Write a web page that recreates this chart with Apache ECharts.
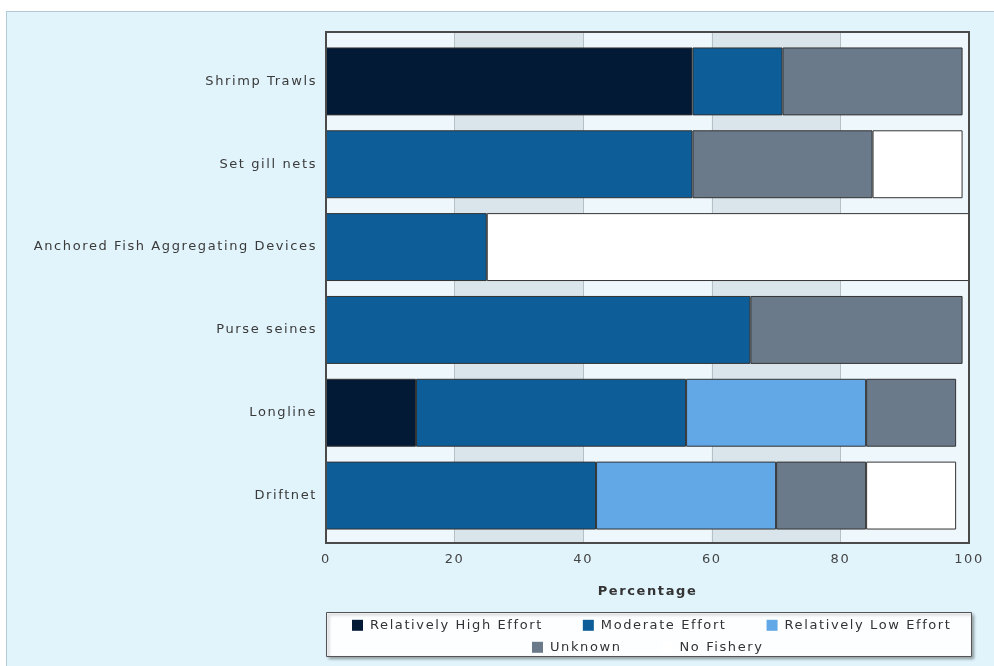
<!DOCTYPE html>
<html><head><meta charset="utf-8">
<script src="https://cdn.jsdelivr.net/npm/echarts@6/dist/echarts.min.js"></script>
<style>
html,body{margin:0;padding:0;background:#fff;overflow:hidden;}
#panel{position:absolute;left:6px;top:11px;width:1000px;height:700px;background:#e1f4fc;border-left:1px solid #b3c9d3;border-top:1px solid #b3c9d3;}
#chart{position:absolute;left:0;top:0;width:994px;height:666px;}
</style></head><body><div id="panel"></div><div id="chart"></div>
<script>
const categories = ['Shrimp Trawls','Set gill nets','Anchored Fish Aggregating Devices','Purse seines','Longline','Driftnet'];
const seriesNames = ['Relatively High Effort','Moderate Effort','Relatively Low Effort','Unknown','No Fishery'];
const highEffort     = [57, 0,  0,  0, 14,  0];
const moderateEffort = [14, 57, 25, 66, 42, 42];
const lowEffort      = [0,  0,  0,  0, 28, 28];
const unknownEffort  = [28, 28, 0, 33, 14, 14];
const noFishery      = [0,  14, 75, 0,  0, 14];
const xMin = 0, xMax = 100, xStep = 20;

// the reference text is drawn with wide letter spacing
(function(){
  const LS = '1.6px';
  const P = CanvasRenderingContext2D.prototype;
  const ft = P.fillText, st = P.strokeText, mt = P.measureText;
  P.fillText = function(){ try { this.letterSpacing = LS; } catch(e){} return ft.apply(this, arguments); };
  P.strokeText = function(){ try { this.letterSpacing = LS; } catch(e){} return st.apply(this, arguments); };
  P.measureText = function(){ try { this.letterSpacing = LS; } catch(e){} return mt.apply(this, arguments); };
})();

const colors = ['#021a36', '#0c5d98', '#62a8e6', '#6b7a8a', '#ffffff'];
const values = [highEffort, moderateEffort, lowEffort, unknownEffort, noFishery];
const font = 'DejaVu Sans, Verdana, sans-serif';

const chart = echarts.init(document.getElementById('chart'), null, {renderer:'canvas'});
const series = seriesNames.map((n, i) => ({
  name: n, type: 'bar', stack: 'total', xAxisIndex: 1, yAxisIndex: 1,
  barWidth: '82%',
  itemStyle: {color: colors[i], borderColor: '#333', borderWidth: 1},
  emphasis: {disabled: true},
  data: values[i].map(v => v === 0 ? '-' : v)
}));

const legendBase = {
  padding: 0, itemGap: 40, itemWidth: 11, itemHeight: 11, icon: 'rect',
  itemStyle: {borderWidth: 0},
  textStyle: {color: '#333', fontSize: 13, fontFamily: font, padding: [0,0,0,2]},
  selectedMode: false
};

chart.setOption({
  backgroundColor: 'transparent',
  animation: false,
  textStyle: {fontFamily: font},
  graphic: [{
    type: 'rect', z: 0, silent: true,
    shape: {x: 326.5, y: 612.5, width: 645, height: 44},
    style: {fill: '#fcfeff', stroke: '#555', lineWidth: 1, shadowBlur: 3, shadowOffsetX: 2, shadowOffsetY: 2, shadowColor: 'rgba(0,0,0,0.35)'}
  }],
  grid: [
    {left: 326, right: 25, top: 32, bottom: 123, show: true, borderColor: '#4a4a4a', borderWidth: 2, backgroundColor: 'transparent', z: 3},
    {left: 326, right: 25, top: 40, bottom: 129}
  ],
  xAxis: [
    {gridIndex: 0, type: 'value', min: xMin, max: xMax, interval: xStep,
     axisLine: {show: false}, axisTick: {show: false},
     splitLine: {show: true, lineStyle: {color: '#b5c1c7', width: 1}},
     splitArea: {show: true, areaStyle: {color: ['#edf7fc', '#d9e5eb']}},
     axisLabel: {color: '#444', fontSize: 13, fontFamily: font, margin: 9},
     name: 'Percentage', nameLocation: 'middle', nameGap: 41,
     nameTextStyle: {color: '#333', fontSize: 13, fontWeight: 'bold', fontFamily: font}},
    {gridIndex: 1, type: 'value', min: xMin, max: xMax, show: false}
  ],
  yAxis: [
    {gridIndex: 0, type: 'value', show: false},
    {gridIndex: 1, type: 'category', inverse: true, data: categories,
     axisLine: {show: false}, axisTick: {show: false}, splitLine: {show: false},
     axisLabel: {color: '#3a3a3a', fontSize: 13, fontFamily: font, margin: 9}}
  ],
  legend: [
    Object.assign({}, legendBase, {data: seriesNames.slice(0, 3), left: 352, top: 618}),
    Object.assign({}, legendBase, {data: seriesNames.slice(3), left: 532, top: 640})
  ],
  series: series
});
</script></body></html>
